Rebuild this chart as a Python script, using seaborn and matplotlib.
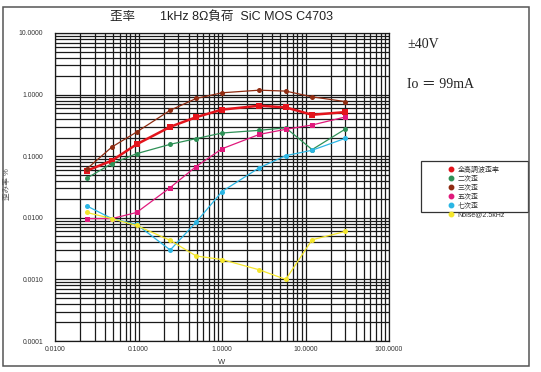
import matplotlib
matplotlib.use("Agg")
import matplotlib.pyplot as plt
from matplotlib.lines import Line2D
from matplotlib.patches import Rectangle
from matplotlib.ticker import LogLocator, FormatStrFormatter, NullFormatter
import pandas as pd
import seaborn as sns

# Data
power_w = [0.024, 0.048, 0.095, 0.24, 0.49, 1.0, 2.8, 5.8, 12, 30]
thd = [0.058, 0.085, 0.156, 0.30, 0.43, 0.57, 0.66, 0.62, 0.47, 0.52]
h2 = [0.044, 0.076, 0.11, 0.156, 0.193, 0.238, 0.263, 0.289, 0.128, 0.276]
h3 = [0.062, 0.141, 0.247, 0.557, 0.865, 1.07, 1.18, 1.14, 0.92, 0.77]
h5 = [0.0097, 0.0097, 0.0122, 0.031, 0.068, 0.132, 0.226, 0.273, 0.321, 0.433]
h7 = [0.0156, 0.0097, 0.0078, 0.0030, 0.0085, 0.0267, 0.065, 0.102, 0.125, 0.195]
noise = [0.0122, 0.0097, 0.0075, 0.0043, 0.0024, 0.0021, 0.00143, 0.00100, 0.0044, 0.0060]

labels = ['全高調波歪率', '二次歪', '三次歪', '五次歪', '七次歪', 'Noise@2.5kHz']
series = [thd, h2, h3, h5, h7, noise]
colors = ['#e3141c', '#2f9157', '#8f2c12', '#e01a7c', '#2bb6e4', '#f4e62c']
markers = ['s', 'o', 'o', 's', 'o', 'o']
widths = [1.8, 0.9, 0.9, 0.9, 0.9, 0.9]

sns.set_theme(style='white')
plt.rcParams['font.family'] = ['Liberation Sans', 'Noto Sans CJK JP', 'DejaVu Sans']

W, H = 541, 372
fig = plt.figure(figsize=(5.41, 3.72), dpi=100)
fig.patch.set_facecolor('white')
ax = fig.add_axes([55 / W, 1 - 341 / H, (389 - 55) / W, (341 - 33) / H])

for lab, vals, c, m, lw in zip(labels, series, colors, markers, widths):
    df = pd.DataFrame({'W': power_w, 'D': vals})
    sns.lineplot(data=df, x='W', y='D', ax=ax, color=c, marker=m, linewidth=lw,
                 markersize=4.2 if lw > 1 else 3.6, markeredgewidth=0, zorder=5)

ax.set_xscale('log')
ax.set_yscale('log')
ax.set_xlim(0.01, 100)
ax.set_ylim(0.0001, 10)
ax.xaxis.set_major_locator(LogLocator(base=10, numticks=10))
ax.yaxis.set_major_locator(LogLocator(base=10, numticks=10))
ax.xaxis.set_minor_locator(LogLocator(base=10, subs=range(2, 10), numticks=20))
ax.yaxis.set_minor_locator(LogLocator(base=10, subs=range(2, 10), numticks=20))
ax.xaxis.set_major_formatter(FormatStrFormatter('%.4f'))
ax.yaxis.set_major_formatter(FormatStrFormatter('%.4f'))
ax.xaxis.set_minor_formatter(NullFormatter())
ax.yaxis.set_minor_formatter(NullFormatter())
ax.grid(True, which='both', color='#1a1a1a', linewidth=0.9)
ax.tick_params(which='both', length=0, labelsize=4.9, colors='#333333')
ax.tick_params(axis='x', pad=3.5)
ax.tick_params(axis='y', pad=8.5)
for s in ax.spines.values():
    s.set_color('#1a1a1a')
    s.set_linewidth(0.9)

ax.set_xlabel('')
ax.set_ylabel('')
fig.text(222 / W, 1 - 362 / H, 'W', ha='center', va='center', fontsize=5.5, color='#333333')
fig.text(8 / W, 1 - 184 / H, '歪み率 %', ha='center', va='center', rotation=90,
         fontsize=5.5, color='#555555')

fig.text(222 / W, 1 - 17 / H, '歪率　　1kHz 8Ω負荷  SiC MOS C4703',
         ha='center', va='center', fontsize=9, color='#222222')
fig.text(407 / W, 1 - 45 / H, '±40V', ha='left', va='center',
         fontsize=10, family='Liberation Serif', color='#222222')
fig.text(407 / W, 1 - 84 / H, 'Io ＝ 99mA', ha='left', va='center',
         fontsize=10, family=['Liberation Serif', 'Noto Sans CJK JP'], color='#222222')

handles = [Line2D([], [], linestyle='none', marker='o', color=c, markersize=3.2)
           for c in colors]
leg = fig.legend(handles, labels, loc='upper left',
                 bbox_to_anchor=(440 / W, 1 - 161 / H), fontsize=5,
                 frameon=False, handletextpad=0.2, borderpad=0.3,
                 labelspacing=0.28, handlelength=1.5)
for t in leg.get_texts():
    t.set_color('#333333')
fig.patches.append(Rectangle((421 / W, 1 - 212 / H), (528 - 421) / W, (212 - 161) / H,
                             transform=fig.transFigure, fill=False,
                             edgecolor='#333333', linewidth=0.9))

fig.patches.append(Rectangle((3 / W, 1 - 366 / H), (529 - 3) / W, (366 - 7) / H,
                             transform=fig.transFigure, fill=False,
                             edgecolor='#555555', linewidth=1.1))

fig.savefig('out.png', dpi=100)
